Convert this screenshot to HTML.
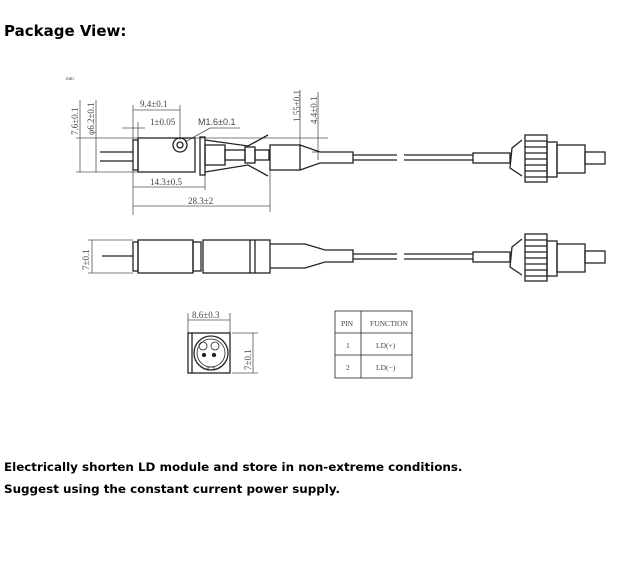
<!DOCTYPE html>
<html><head><meta charset="utf-8"><style>
body{margin:0;width:620px;height:572px;background:#fff;position:relative;overflow:hidden;font-family:Verdana,"DejaVu Sans",sans-serif}
.t{position:absolute;left:4px;font-weight:bold;font-size:11.9px;color:#000}
svg{position:absolute;left:0;top:0}
</style></head><body>
<div class="t" style="top:22px;font-size:15px">Package View:</div>
<div class="t" style="top:460px">Electrically shorten LD module and store in non-extreme conditions.</div>
<div class="t" style="top:482px">Suggest using the constant current power supply.</div>
<svg width="620" height="572" viewBox="0 0 620 572" fill="none" stroke="#222" stroke-width="1.3">
<g font-family="Liberation Serif,serif" font-size="9" fill="#444" stroke="none">
<text x="66" y="80" font-size="5">mm</text>
<text transform="translate(78,135) rotate(-90)">7.6±0.1</text>
<text transform="translate(94,135) rotate(-90)">φ6.2±0.1</text>
<text x="140" y="107">9.4±0.1</text>
<text x="150" y="125">1±0.05</text>
<text x="198" y="125" font-family="Liberation Sans,sans-serif">M1.6±0.1</text>
<text x="150" y="185">14.3±0.5</text>
<text x="188" y="204">28.3±2</text>
<text transform="translate(300,122) rotate(-90)">1.55±0.1</text>
<text transform="translate(317,124) rotate(-90)">4.4±0.1</text>
<text transform="translate(89,270) rotate(-90)">7±0.1</text>
<text x="192" y="318">8.6±0.3</text>
<text transform="translate(251,370) rotate(-90)">7±0.1</text>
<text x="341" y="326" font-size="7.5">PIN</text>
<text x="370" y="326" font-size="7.5">FUNCTION</text>
<text x="346" y="348" font-size="7.5">1</text>
<text x="376" y="348" font-size="7.5">LD(+)</text>
<text x="346" y="370" font-size="7.5">2</text>
<text x="376" y="370" font-size="7.5">LD(−)</text>
</g>
<g stroke="#555" stroke-width="0.8">
<line x1="80" y1="100" x2="80" y2="172"/><line x1="96" y1="100" x2="96" y2="172"/>
<line x1="76" y1="138" x2="328" y2="138"/><line x1="76" y1="172" x2="138" y2="172"/>
<line x1="133" y1="105" x2="133" y2="215"/><line x1="180" y1="105" x2="180" y2="140"/>
<line x1="133" y1="110" x2="180" y2="110"/><line x1="122" y1="128" x2="145" y2="128"/>
<line x1="138" y1="122" x2="138" y2="138"/>
<line x1="185" y1="142" x2="210" y2="128"/><line x1="210" y1="128" x2="240" y2="128"/>
<line x1="133" y1="187" x2="205" y2="187"/><line x1="205" y1="175" x2="205" y2="190"/>
<line x1="133" y1="206" x2="270" y2="206"/><line x1="270" y1="170" x2="270" y2="212"/>
<line x1="300" y1="90" x2="300" y2="150"/><line x1="318" y1="92" x2="318" y2="160"/>
<line x1="312" y1="152" x2="325" y2="152"/>
<line x1="92" y1="240" x2="92" y2="273"/><line x1="88" y1="240" x2="133" y2="240"/><line x1="88" y1="273" x2="133" y2="273"/>
<line x1="188" y1="313" x2="188" y2="333"/><line x1="230" y1="313" x2="230" y2="333"/><line x1="188" y1="320" x2="230" y2="320"/>
<line x1="253" y1="333" x2="253" y2="373"/><line x1="232" y1="333" x2="258" y2="333"/><line x1="232" y1="373" x2="258" y2="373"/>
</g>
<line x1="100" y1="152" x2="133" y2="152"/><line x1="100" y1="161" x2="133" y2="161"/>
<rect x="133" y="140" width="5" height="30"/><rect x="138" y="138" width="57" height="34"/>
<circle cx="180" cy="145" r="7"/><circle cx="180" cy="145" r="3"/>
<rect x="200" y="137" width="5" height="38"/><rect x="205" y="145" width="20" height="20"/>
<rect x="225" y="150" width="20" height="10"/><rect x="245" y="147" width="10" height="16"/><rect x="255" y="150" width="14" height="10"/>
<polyline points="205,140 248,146 268,135"/><polyline points="205,172 248,165 268,176"/>
<rect x="270" y="145" width="30" height="25"/>
<polyline points="300,145 320,152 353,152 353,163 320,163 300,170"/>
<g id="cab"><line x1="353" y1="155" x2="397" y2="155"/><line x1="353" y1="160" x2="397" y2="160"/>
<line x1="404" y1="155" x2="473" y2="155"/><line x1="404" y1="160" x2="473" y2="160"/>
<rect x="473" y="153" width="37" height="10"/>
<polyline points="522,140 512,148 510,168 522,176"/>
<rect x="525" y="135" width="22" height="47"/>
<line x1="525" y1="141" x2="547" y2="141"/><line x1="525" y1="147" x2="547" y2="147"/><line x1="525" y1="153" x2="547" y2="153"/><line x1="525" y1="159" x2="547" y2="159"/><line x1="525" y1="165" x2="547" y2="165"/><line x1="525" y1="171" x2="547" y2="171"/><line x1="525" y1="177" x2="547" y2="177"/>
<rect x="547" y="142" width="10" height="35"/><rect x="557" y="145" width="28" height="28"/><rect x="585" y="152" width="20" height="12"/></g>
<use href="#cab" transform="translate(0,99)"/>
<line x1="102" y1="256" x2="133" y2="256"/>
<rect x="133" y="242" width="5" height="29"/><rect x="138" y="240" width="55" height="33"/>
<rect x="193" y="242" width="8" height="29"/><rect x="203" y="240" width="67" height="33"/>
<line x1="250" y1="240" x2="250" y2="273"/><line x1="255" y1="240" x2="255" y2="273"/>
<polyline points="270,244 305,244 325,250 353,250 353,262 325,262 305,268 270,268"/>
<rect x="188" y="333" width="42" height="40"/><line x1="192" y1="333" x2="192" y2="373"/>
<circle cx="211" cy="353" r="17"/><circle cx="211" cy="353" r="14" stroke-width="0.8"/>
<circle cx="203" cy="346" r="4" stroke-width="0.8"/><circle cx="215" cy="346" r="4" stroke-width="0.8"/>
<circle cx="204" cy="355" r="1.5" fill="#222"/><circle cx="214" cy="355" r="1.5" fill="#222"/>
<rect x="208" y="367" width="6" height="3" stroke-width="0.8"/>
<g stroke-width="0.8"><rect x="335" y="311" width="77" height="67"/><line x1="361" y1="311" x2="361" y2="378"/>
<line x1="335" y1="333" x2="412" y2="333"/><line x1="335" y1="355" x2="412" y2="355"/></g>
</svg>
</body></html>
